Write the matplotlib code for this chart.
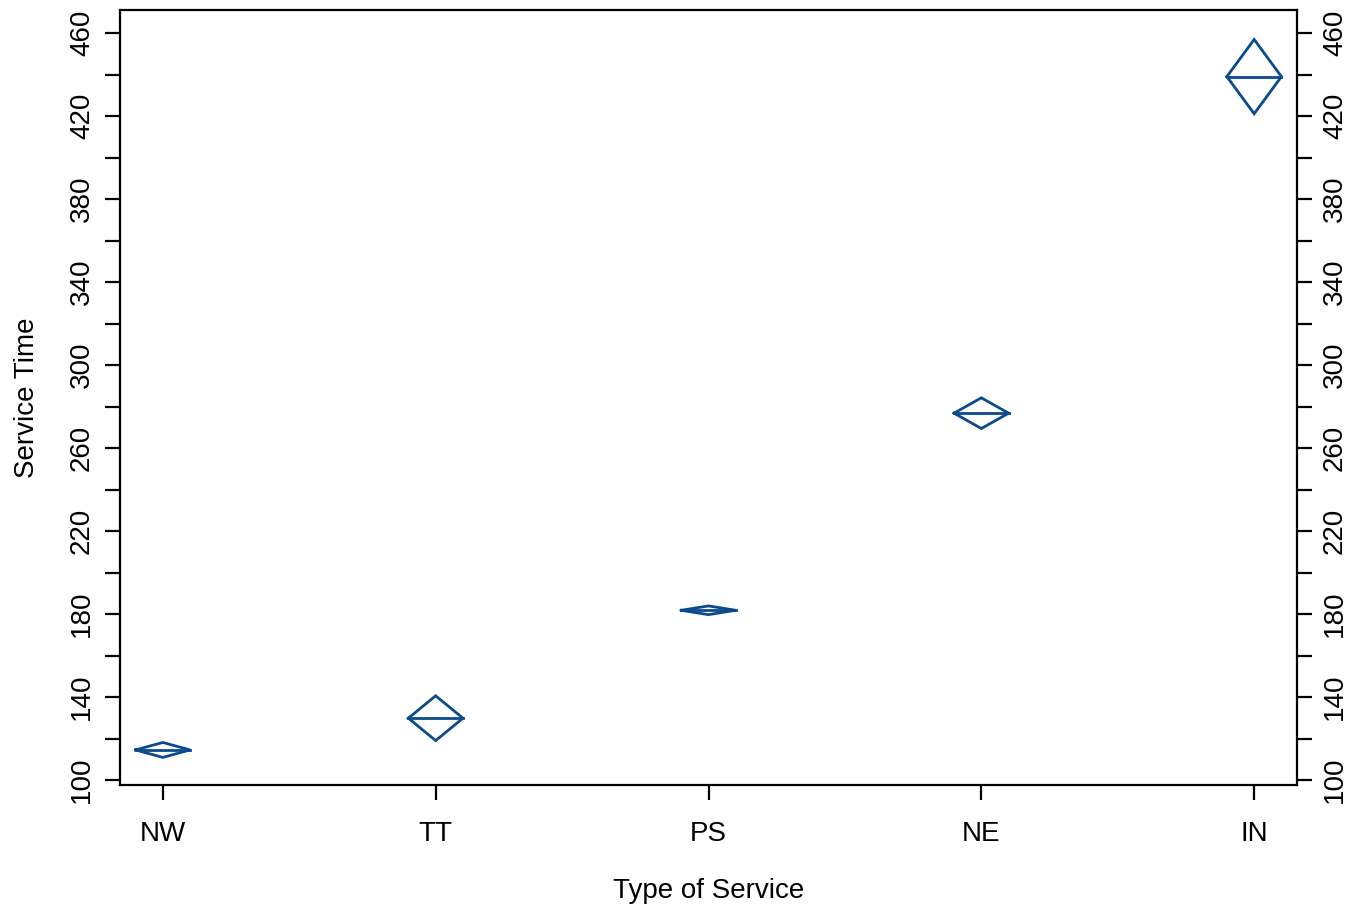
import numpy as np
import matplotlib
matplotlib.use("Agg")
import matplotlib.pyplot as plt
from matplotlib.ticker import MultipleLocator, FuncFormatter

plt.rcParams['font.family'] = ['Liberation Sans', 'DejaVu Sans']

# mean service time and confidence half-width per service type
services = ["NW", "TT", "PS", "NE", "IN"]
means = [114.5, 129.8, 181.8, 276.8, 439.0]
half_ci = [3.6, 10.8, 2.1, 7.4, 17.9]

blue = "#0B4A8C"
half_w = 0.1

fig = plt.figure(figsize=(13.59, 9.09), dpi=100)
ax = fig.add_axes([120 / 1359, 124 / 909, 1177 / 1359, 775 / 909])

for i, (m, h) in enumerate(zip(means, half_ci)):
    xs = [i - half_w, i, i + half_w, i, i - half_w]
    ys = [m, m + h, m, m - h, m]
    ax.plot(xs, ys, color=blue, lw=2.0, solid_joinstyle="miter")
    ax.plot([i - half_w, i + half_w], [m, m], color=blue, lw=2.0)

ax.set_xlim(-0.157, 4.157)
ax.set_ylim(97.6, 471.1)
ax.set_xticks(range(len(services)))
ax.set_xticklabels(services)

ax.yaxis.set_major_locator(MultipleLocator(20))
ax.yaxis.set_major_formatter(FuncFormatter(lambda v, p: f"{v:.0f}" if round(v) % 40 == 20 else ""))
ax.tick_params(axis="y", left=True, right=True, labelleft=True, labelright=True,
               labelrotation=90, length=11, width=1.6, labelsize=20, pad=7)
ax.tick_params(axis="x", length=11, width=1.6, labelsize=20, pad=15)
for lbl in ax.get_yticklabels():
    lbl.set_va("center")

for s in ax.spines.values():
    s.set_linewidth(1.6)

ax.set_xlabel("Type of Service", fontsize=20, labelpad=22)
ax.set_ylabel("Service Time", fontsize=20, labelpad=21)

fig.savefig("out.png", dpi=100)
